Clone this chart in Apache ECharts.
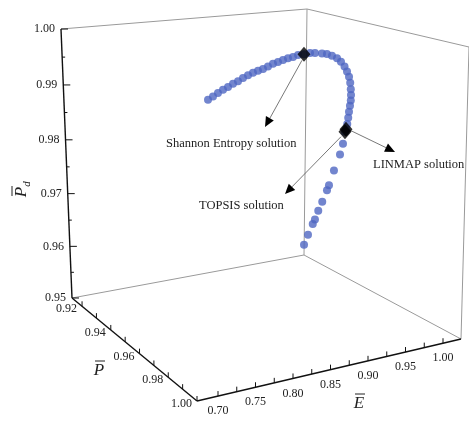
<!DOCTYPE html>
<html>
<head>
<meta charset="utf-8">
<script src="https://cdn.jsdelivr.net/npm/echarts@6/dist/echarts.min.js"></script>
<style>
  html, body { margin: 0; padding: 0; background: #fff; }
  #main { width: 469px; height: 421px; }
</style>
</head>
<body>
<div id="main"></div>
<script>
// Pareto front points (normalized E, P, Pd)
var E = [0.6897, 0.6981, 0.7065, 0.7150, 0.7235, 0.7320, 0.7405, 0.7490, 0.7576, 0.7661,
         0.7747, 0.7833, 0.7919, 0.8027, 0.8114, 0.8223, 0.8332, 0.8442, 0.8553, 0.8654,
         0.8756, 0.8845, 0.8961, 0.9050, 0.9140, 0.9231, 0.9308, 0.9380, 0.9438, 0.9490,
         0.9519, 0.9540, 0.9556, 0.9566, 0.9568, 0.9568, 0.9583, 0.9595, 0.9591, 0.9590,
         0.9638, 0.9673, 0.9691, 0.9724, 0.9747, 0.9783, 0.9830, 0.9861, 0.9882, 0.9945,
         0.9994];
var P = [1.000, 0.999, 0.998, 0.997, 0.996, 0.995, 0.994, 0.993, 0.992, 0.991,
         0.990, 0.989, 0.988, 0.986, 0.985, 0.983, 0.981, 0.979, 0.977, 0.976,
         0.975, 0.974, 0.973, 0.972, 0.971, 0.970, 0.969, 0.968, 0.967, 0.966,
         0.9655, 0.965, 0.9645, 0.964, 0.9635, 0.963, 0.962, 0.961, 0.9605, 0.960,
         0.957, 0.954, 0.950, 0.946, 0.944, 0.940, 0.936, 0.933, 0.931, 0.926,
         0.922];
var Pd = [0.9964, 0.9967, 0.9970, 0.9973, 0.9975, 0.9978, 0.9980, 0.9983, 0.9985, 0.9987,
          0.9988, 0.9989, 0.9991, 0.9992, 0.9993, 0.9993, 0.9993, 0.9992, 0.9992, 0.9991,
          0.9991, 0.9989, 0.9986, 0.9983, 0.9978, 0.9972, 0.9964, 0.9954, 0.9944, 0.9933,
          0.9922, 0.9910, 0.9899, 0.9889, 0.9879, 0.9868, 0.9856, 0.9844, 0.9834, 0.9829,
          0.9803, 0.9779, 0.9744, 0.9710, 0.9697, 0.9668, 0.9643, 0.9620, 0.9607, 0.9575,
          0.9546];

// decision-making solutions [E, P, Pd]
var shannon = [0.8654, 0.976, 0.9991];
var linmap = [0.9591, 0.9605, 0.9834];
var topsis = [0.9590, 0.960, 0.9829];

// axis ticks
var eTicks = [0.70, 0.75, 0.80, 0.85, 0.90, 0.95, 1.00];
var pTicks = [0.92, 0.94, 0.96, 0.98, 1.00];
var pdTicks = [0.95, 0.96, 0.97, 0.98, 0.99, 1.00];

// ---- fake 3D box: axis ranges + screen corners ----
var eRange = [0.672, 1.024];
var pRange = [0.913, 1.000];
var pdRange = [0.95, 1.00];
// key = e p pd (0 = min, 1 = max)
var box = {
  '000': [72, 298], '100': [304, 255], '010': [197, 401], '110': [461, 339],
  '001': [61, 29],  '101': [307, 9],   '011': [194, 77],  '111': [469, 47]
};

function project(e, p, pd) {
  var u = (e - eRange[0]) / (eRange[1] - eRange[0]);
  var v = (p - pRange[0]) / (pRange[1] - pRange[0]);
  var w = (pd - pdRange[0]) / (pdRange[1] - pdRange[0]);
  w = w - 0.05 * w * (1 - w); // a bit of perspective on the vertical
  var out = [];
  for (var i = 0; i < 2; i++) {
    var b = (1 - u) * (1 - v) * box['000'][i] + u * (1 - v) * box['100'][i] +
            (1 - u) * v * box['010'][i] + u * v * box['110'][i];
    var t = (1 - u) * (1 - v) * box['001'][i] + u * (1 - v) * box['101'][i] +
            (1 - u) * v * box['011'][i] + u * v * box['111'][i];
    out.push(b + w * (t - b));
  }
  return out;
}

var pts = [];
for (var i = 0; i < E.length; i++) {
  pts.push(project(E[i], P[i], Pd[i]));
}

var serif = '"Liberation Serif", "Times New Roman", serif';
var g = [];

function seg(a, b, color, lw) {
  g.push({ type: 'line', silent: true,
    shape: { x1: a[0], y1: a[1], x2: b[0], y2: b[1] },
    style: { stroke: color, lineWidth: lw } });
}
function txt(s, x, y, align, size, extra) {
  var o = { type: 'text', silent: true, x: x, y: y,
    style: { text: s, font: (size || 12) + 'px ' + serif, fill: '#222',
      align: align, verticalAlign: 'middle', textAlign: align, textVerticalAlign: 'middle' } };
  if (extra) { for (var k in extra) o.style[k] = extra[k]; }
  g.push(o);
}
function arrow(x1, y1, x2, y2) {
  var a = Math.atan2(y2 - y1, x2 - x1), L = 10, W = 4.5;
  var bx = x2 - L * Math.cos(a), by = y2 - L * Math.sin(a);
  seg([x1, y1], [bx, by], '#555', 0.8);
  g.push({ type: 'polygon', silent: true,
    shape: { points: [[x2, y2], [bx + W * Math.sin(a), by - W * Math.cos(a)], [bx - W * Math.sin(a), by + W * Math.cos(a)]] },
    style: { fill: '#000' } });
}

var e0 = eRange[0], e1 = eRange[1], p0 = pRange[0], p1 = pRange[1], d0 = pdRange[0], d1 = pdRange[1];
// back walls (grey)
seg(project(e0, p0, d1), project(e1, p0, d1), '#9a9a9a', 1);
seg(project(e1, p0, d0), project(e1, p0, d1), '#9a9a9a', 1);
seg(project(e0, p0, d0), project(e1, p0, d0), '#9a9a9a', 1);
seg(project(e1, p0, d0), project(e1, p1, d0), '#9a9a9a', 1);
seg(project(e1, p0, d1), project(e1, p1, d1), '#9a9a9a', 1);
seg(project(e1, p1, d0), project(e1, p1, d1), '#9a9a9a', 1);
// axes (black)
seg(project(e0, p0, d0), project(e0, p0, d1), '#111', 1.4);
seg(project(e0, p0, d0), project(e0, p1, d0), '#111', 1.4);
seg(project(e0, p1, d0), project(e1, p1, d0), '#111', 1.4);

// Pd ticks and labels
for (var t = 0; t <= 10; t++) {
  var d = 0.95 + t * 0.005;
  var q = project(e0, p0, d);
  seg(q, [q[0] + (t % 2 ? 3 : 7), q[1]], '#111', 1);
}
pdTicks.forEach(function (d) {
  var q = project(e0, p0, d);
  txt(d.toFixed(2), q[0] - 6, q[1], 'right', 12);
});
// P ticks and labels
for (var t = 0; t <= 8; t++) {
  var pv = 0.92 + t * 0.01;
  var q = project(e0, pv, d0);
  seg(q, [q[0], q[1] - 5], '#111', 1);
}
pTicks.forEach(function (pv) {
  var q = project(e0, pv, d0);
  txt(pv.toFixed(2), q[0] - 5, q[1] + 3, 'right', 12);
});
// E ticks and labels
for (var t = 0; t <= 12; t++) {
  var ev = 0.70 + t * 0.025;
  var q = project(ev, p1, d0);
  seg(q, [q[0], q[1] - 5], '#111', 1);
}
eTicks.forEach(function (ev) {
  var q = project(ev, p1, d0);
  txt(ev.toFixed(2), q[0], q[1] + 15, 'center', 12);
});

// axis titles with overbars
function barTitle(letter, sub, x, y, rot) {
  var kids = [
    { type: 'text', x: 0, y: 0, style: { text: letter, font: 'italic 17px ' + serif, fill: '#222',
      align: 'center', verticalAlign: 'middle', textAlign: 'center', textVerticalAlign: 'middle' } },
    { type: 'line', shape: { x1: -4, y1: -10, x2: 6, y2: -10 }, style: { stroke: '#222', lineWidth: 1 } }
  ];
  if (sub) {
    kids.push({ type: 'text', x: 8, y: 5, style: { text: sub, font: 'italic 11px ' + serif, fill: '#222',
      align: 'center', verticalAlign: 'middle', textAlign: 'center', textVerticalAlign: 'middle' } });
  }
  g.push({ type: 'group', x: x, y: y, rotation: rot || 0, silent: true, children: kids });
}
barTitle('P', 'd', 22, 192, Math.PI / 2);
barTitle('P', null, 99, 371, 0);
barTitle('E', null, 359, 404, 0);

// annotations
var sp = project(shannon[0], shannon[1], shannon[2]);
var lp = project(linmap[0], linmap[1], linmap[2]);
var tp = project(topsis[0], topsis[1], topsis[2]);
arrow(sp[0] - 2, sp[1] + 6, 265, 127);
arrow(lp[0] + 4, lp[1] + 1, 395, 152);
arrow(tp[0] - 4, tp[1] + 5, 285, 194);
txt('Shannon Entropy solution', 166, 144, 'left', 12.5);
txt('LINMAP solution', 373, 165, 'left', 12.5);
txt('TOPSIS solution', 199, 206, 'left', 12.5);

var myChart = echarts.init(document.getElementById('main'));
var option = {
  animation: false,
  grid: { left: 0, right: 0, top: 0, bottom: 0 },
  xAxis: { type: 'value', min: 0, max: 469, show: false },
  yAxis: { type: 'value', min: 0, max: 421, inverse: true, show: false },
  graphic: g,
  series: [
    {
      name: 'Pareto front',
      type: 'scatter',
      data: pts,
      symbolSize: 8,
      itemStyle: { color: '#4f66c2' },
      z: 3
    },
    {
      name: 'solutions',
      type: 'scatter',
      data: [sp, lp, tp],
      symbol: 'diamond',
      symbolSize: [13, 15],
      itemStyle: { color: '#000' },
      z: 4
    }
  ]
};
myChart.setOption(option);
</script>
</body>
</html>
